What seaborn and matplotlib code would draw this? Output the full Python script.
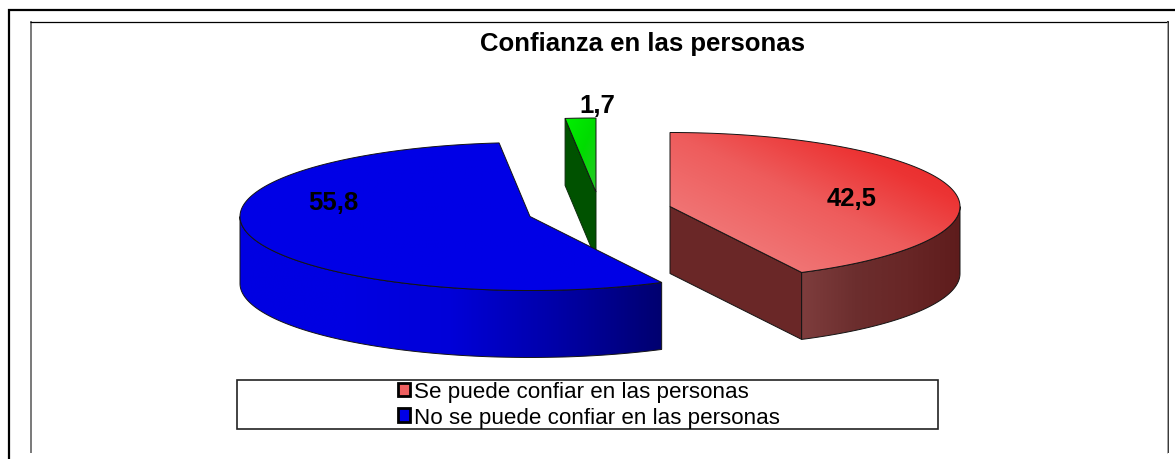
import numpy as np
import matplotlib
matplotlib.use("Agg")
import matplotlib.pyplot as plt
from matplotlib.patches import Polygon, Rectangle, Patch
import seaborn as sns

# Data
categories = ["Se puede confiar en las personas", "No se puede confiar en las personas", "Otro"]
values = [42.5, 55.8, 1.7]
title = "Confianza en las personas"

# Pixel layout of the exploded 3D pie
RX, RY, DEPTH = 290, 74, 67
centers = [(670, 207.5), (530, 217.5), (596, 193)]
label_pos = [(852, 199.5), (333, 203), (597, 106)]

sns.set_theme(style="white")
plt.rcParams["font.family"] = ["Liberation Sans", "DejaVu Sans"]

fig = plt.figure(figsize=(11.75, 4.6), dpi=100)
ax = fig.add_axes([0, 0, 1, 1])


def arc(center, a0, a1, n=200):
    t = np.radians(np.linspace(a0, a1, n))
    return np.column_stack([center[0] + RX * np.cos(t), center[1] - RY * np.sin(t)])


def gradient_fill(points, colors, direction, z):
    # fills a polygon with a linear gradient, direction is in pixel space
    cmap = sns.blend_palette(colors, as_cmap=True)
    x0, y0 = points.min(axis=0)
    x1, y1 = points.max(axis=0)
    xx, yy = np.meshgrid(np.linspace(0, 1, 300), np.linspace(0, 1, 300))
    g = xx * direction[0] + yy * direction[1]
    g = (g - g.min()) / (g.max() - g.min())
    im = ax.imshow(g, cmap=cmap, extent=(x0, x1, y1, y0), aspect="auto", zorder=z,
                   interpolation="bilinear")
    patch = Polygon(points, closed=True, transform=ax.transData, fc="none", ec="none")
    ax.add_patch(patch)
    im.set_clip_path(patch)
    ax.add_patch(Polygon(points, closed=True, fc="none", ec="#141414", lw=0.7, zorder=z + 0.1))


# start at 12 o'clock and go clockwise, like the original chart
ends = 90 - np.cumsum(values) * 3.6
starts = np.r_[90, ends[:-1]]

# green slice sits behind the blue one
c = centers[2]
green_arc = arc(c, starts[2], ends[2], 20)
left = green_arc[0] if green_arc[0][0] < green_arc[-1][0] else green_arc[-1]
ax.add_patch(Polygon([left, c, (c[0], c[1] + DEPTH), (left[0], left[1] + DEPTH)],
                     fc="#005200", ec="#0c2c0c", lw=0.7, zorder=2))
gradient_fill(np.vstack([c, green_arc]), ["#00f000", "#00dc00", "#28c828"], (1, 1), 2.5)

# blue slice, the outer wall only shows on the front half
c = centers[1]
blue_arc = arc(c, starts[1], ends[1], 300)
wall = arc(c, -180, starts[1], 200)
side = np.vstack([wall, wall[::-1] + [0, DEPTH]])
gradient_fill(side, ["#0000e2", "#0000e2", "#0000d8", "#0000a8", "#000070"], (1, 0), 3)
gradient_fill(np.vstack([c, blue_arc]), ["#0000e6", "#0000e6"], (1, 0), 3.5)

# red slice
c = centers[0]
red_arc = arc(c, starts[0], ends[0], 200)
tip = red_arc[-1]
ax.add_patch(Polygon([c, tip, tip + [0, DEPTH], (c[0], c[1] + DEPTH)],
                     fc="#6a2727", ec="#141414", lw=0.7, zorder=4))
wall = arc(c, ends[0], 0, 100)
side = np.vstack([wall, wall[::-1] + [0, DEPTH]])
gradient_fill(side, ["#7e3d3d", "#6c2e2e", "#682626", "#5e1c1c"], (1, 0), 4.2)
gradient_fill(np.vstack([c, red_arc]), ["#f48484", "#f07272", "#ee5c5c", "#ec3434", "#e82020"], (1, -1), 4.5)

# value labels
for v, (x, y) in zip(values, label_pos):
    ax.text(x, y, f"{v:.1f}".replace(".", ","), ha="center", va="center",
            fontsize=18.5, fontweight="bold", color="black", zorder=6)

ax.text(642, 44.5, title, ha="center", va="center", fontsize=18.5, fontweight="bold", color="black")

# legend box, only the first two slices have an entry
ax.add_patch(Rectangle((237, 380.5), 701, 49, fc="white", ec="#222222", lw=1.2, zorder=1))
handles = [Patch(fc="#ee5f5f", ec="black", lw=2), Patch(fc="#0000e6", ec="black", lw=2)]
ax.legend(handles, categories[:2], loc="center left", bbox_to_anchor=(398, 405.5),
          bbox_transform=ax.transData, frameon=False, fontsize=16.1, handlelength=0.55,
          handleheight=0.55, handletextpad=0.16, labelspacing=0.2, borderpad=0, borderaxespad=0,
          labelcolor="black")

# picture frames
ax.plot([9, 9, 1175], [460, 11, 11], color="black", lw=1.6, solid_capstyle="butt", solid_joinstyle="miter")
ax.plot([31, 31], [454, 22], color="#6e6e6e", lw=1.3, solid_capstyle="butt")
ax.plot([30, 1168], [22.5, 22.5], color="black", lw=0.9, solid_capstyle="butt")
ax.plot([1168, 1168], [22, 454], color="black", lw=1.1, solid_capstyle="butt")
ax.plot([1166.5, 1166.5], [23, 454], color="#a8a8a8", lw=0.7, solid_capstyle="butt")

ax.set_xlim(0, 1175)
ax.set_ylim(460, 0)
ax.axis("off")

fig.savefig("out.png", dpi=100, facecolor="white")
